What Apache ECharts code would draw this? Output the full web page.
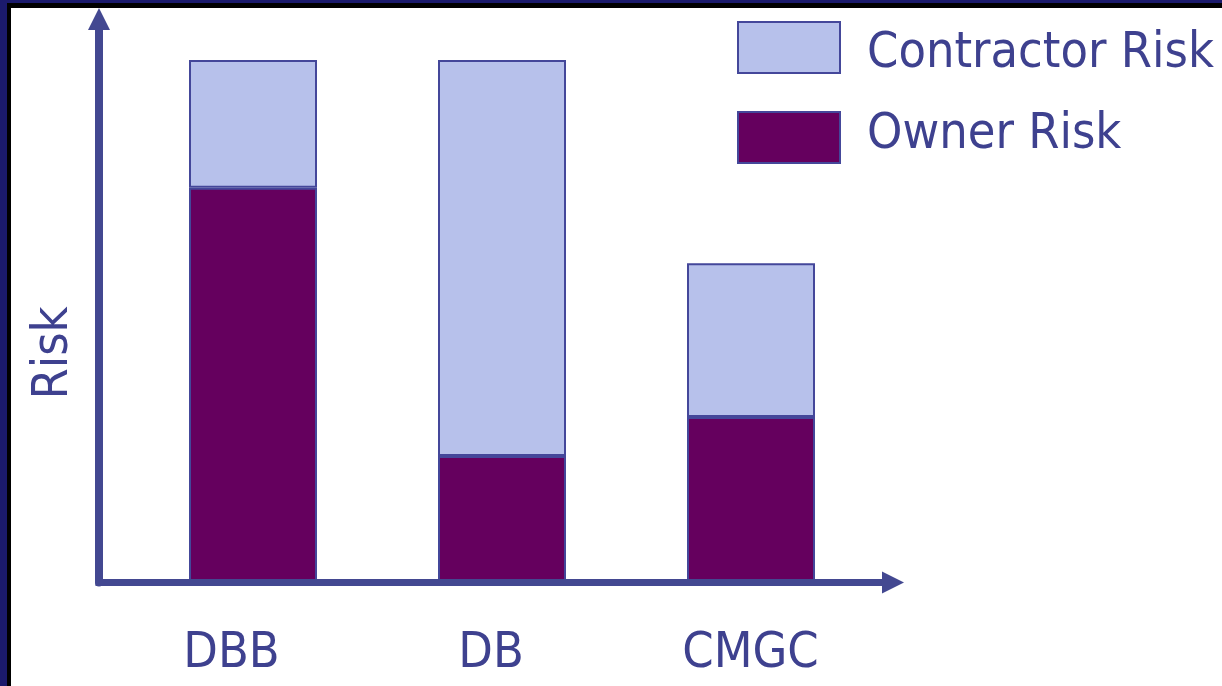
<!DOCTYPE html>
<html>
<head>
<meta charset="utf-8">
<script src="https://cdn.jsdelivr.net/npm/echarts@6/dist/echarts.min.js"></script>
<style>
  html, body { margin: 0; padding: 0; background: #ffffff; }
  #wrap { position: relative; width: 1222px; height: 686px; overflow: hidden; }
  #chart { position: absolute; left: 0; top: 0; width: 1222px; height: 686px; }
  #frameOuter { position: absolute; left: 0; top: 0; width: 1222px; height: 686px; box-sizing: border-box;
    border-top: 3px solid #1b1a6c; border-left: 7px solid #1b1a6c; pointer-events: none; }
  #frameInner { position: absolute; left: 0; top: 0; right: 0; bottom: 0; box-sizing: border-box;
    border-top: 5px solid #000000; border-left: 4px solid #000000; }
</style>
</head>
<body>
<div id="wrap">
  <div id="chart"></div>
  <div id="frameOuter"><div id="frameInner"></div></div>
</div>
<script>
const categories = ['DBB', 'DB', 'CMGC'];
const ownerRisk = [75.5, 24, 31.5];
const contractorRisk = [24.5, 76, 29.5];
const seriesNames = ['Contractor Risk', 'Owner Risk'];
const yAxisName = 'Risk';

const FONT = 'DejaVu Sans Condensed';
const TEXT = '#3e418f';
const AXIS = '#434891';
const EDGE = '#44479a';

const legendBase = {
  orient: 'vertical', left: 737, padding: 0,
  itemWidth: 102, itemHeight: 51, icon: 'rect'
};
const legendText = { color: TEXT, fontFamily: FONT, fontSize: 50, lineHeight: 50 };

const chart = echarts.init(document.getElementById('chart'), null, { renderer: 'canvas' });
chart.setOption({
  animation: false,
  backgroundColor: '#ffffff',
  grid: [
    { left: 128.5, right: 346.5, top: 8, bottom: 105 },        // bars
    { left: 99, right: 329, top: 19, bottom: 103.5 },          // arrows
    { left: 101.75, right: 341.75, top: 123.5, bottom: 103.5 } // labels
  ],
  xAxis: [
    { type: 'category', gridIndex: 0, data: categories, show: false },
    { type: 'category', gridIndex: 1, data: categories, z: 10,
      axisLine: { show: true, symbol: ['none', 'triangle'], symbolSize: [22, 22],
        lineStyle: { color: AXIS, width: 7, cap: 'square' } },
      axisTick: { show: false }, axisLabel: { show: false }, splitLine: { show: false } },
    { type: 'category', gridIndex: 2, data: categories,
      axisLine: { show: false }, axisTick: { show: false }, splitLine: { show: false },
      axisLabel: { show: true, color: TEXT, fontFamily: FONT, fontSize: 50, lineHeight: 50, margin: 47 } }
  ],
  yAxis: [
    { type: 'value', gridIndex: 0, min: 0, max: 110, show: false },
    { type: 'value', gridIndex: 1, min: 0, max: 100, z: 10,
      axisLine: { show: true, symbol: ['none', 'triangle'], symbolSize: [22, 22],
        lineStyle: { color: AXIS, width: 8 } },
      axisTick: { show: false }, axisLabel: { show: false }, splitLine: { show: false } },
    { type: 'value', gridIndex: 2, min: 0, max: 100,
      axisLine: { show: false }, axisTick: { show: false }, axisLabel: { show: false }, splitLine: { show: false },
      name: yAxisName, nameLocation: 'middle', nameRotate: 90, nameGap: 23,
      nameTextStyle: { color: TEXT, fontFamily: FONT, fontSize: 50, lineHeight: 50 } }
  ],
  legend: [
    Object.assign({}, legendBase, {
      data: [seriesNames[0]], top: 16,
      formatter: function (name) { return '{a|' + name + '}'; },
      textStyle: Object.assign({}, legendText, {
        rich: { a: Object.assign({}, legendText, { padding: [13, 0, 0, 22] }) }
      })
    }),
    Object.assign({}, legendBase, {
      data: [seriesNames[1]], top: 110,
      formatter: function (name) { return '{b|' + name + '}'; },
      textStyle: Object.assign({}, legendText, {
        rich: { b: Object.assign({}, legendText, { padding: [0, 0, 5, 22] }) }
      })
    })
  ],
  series: [
    { name: seriesNames[1], type: 'bar', stack: 'risk', xAxisIndex: 0, yAxisIndex: 0, barWidth: 128,
      data: ownerRisk, itemStyle: { color: '#65005e', borderColor: EDGE, borderWidth: 2 } },
    { name: seriesNames[0], type: 'bar', stack: 'risk', xAxisIndex: 0, yAxisIndex: 0, barWidth: 128,
      data: contractorRisk, itemStyle: { color: '#b7c1eb', borderColor: EDGE, borderWidth: 2 } }
  ]
});
</script>
</body>
</html>
